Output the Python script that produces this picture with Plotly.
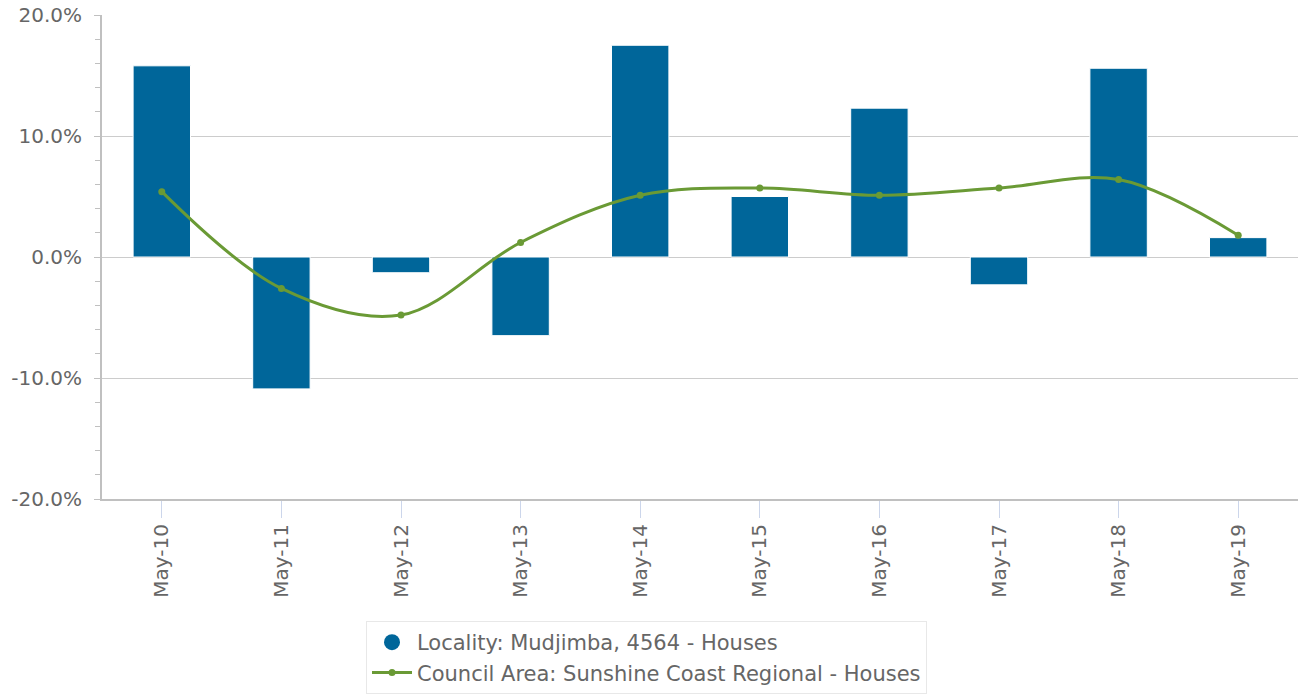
import plotly.graph_objects as go

categories = ["May-10", "May-11", "May-12", "May-13", "May-14",
              "May-15", "May-16", "May-17", "May-18", "May-19"]
locality_values = [15.8, -10.9, -1.3, -6.5, 17.5, 5.0, 12.3, -2.3, 15.6, 1.6]
council_values = [5.4, -2.6, -4.8, 1.2, 5.1, 5.7, 5.1, 5.7, 6.4, 1.8]
y_tick_vals = [-20, -10, 0, 10, 20]
y_tick_text = ["-20.0%", "-10.0%", "0.0%", "10.0%", "20.0%"]

locality_name = "Locality: Mudjimba, 4564 - Houses"
council_name = "Council Area: Sunshine Coast Regional - Houses"

BAR_COLOR = "#00669a"
LINE_COLOR = "#6a9a35"
FONT = "DejaVu Sans"
TEXT = "#666666"

W, H = 1298, 698
ML, MT, MR, MB = 102, 15, 0, 199
plot_w = W - ML - MR
plot_h = H - MT - MB

fig = go.Figure()
fig.add_trace(go.Bar(
    x=categories, y=locality_values, name=locality_name,
    marker=dict(color=BAR_COLOR, line=dict(color="white", width=1)),
    width=0.48, showlegend=False,
))
fig.add_trace(go.Scatter(
    x=[None], y=[None], mode="markers", name=locality_name,
    marker=dict(color=BAR_COLOR, size=20, symbol="circle"),
))
fig.add_trace(go.Scatter(
    x=categories, y=council_values, name=council_name,
    mode="lines+markers",
    line=dict(color=LINE_COLOR, width=3, shape="spline", smoothing=1.0),
    marker=dict(color=LINE_COLOR, size=7),
))

fig.update_layout(
    width=W, height=H,
    margin=dict(l=ML, r=MR, t=MT, b=MB, autoexpand=False),
    paper_bgcolor="white", plot_bgcolor="white",
    font=dict(family=FONT, size=20, color=TEXT),
    showlegend=True,
    legend=dict(
        x=(362 + 4 - 102) / plot_w, xanchor="left",
        y=-(621 - 499) / plot_h, yanchor="top",
        bordercolor="#e8e8e8", borderwidth=1, bgcolor="white",
        font=dict(family=FONT, size=21, color=TEXT),
        itemwidth=40,
    ),
)
fig.update_xaxes(
    type="category", range=[-0.5, 9.5], automargin=False,
    showline=True, linecolor="#c0c0c0", linewidth=2,
    ticks="outside", ticklen=17, tickcolor="#ccd6eb", tickwidth=1,
    tickangle=-90, showgrid=False, ticklabelstandoff=-2,
    ticklabeloverflow="allow",
    tickfont=dict(family=FONT, size=20, color=TEXT),
)
fig.update_yaxes(
    range=[-20, 20.0001], tickmode="array", tickvals=y_tick_vals, ticktext=y_tick_text,
    automargin=False, ticklabeloverflow="allow",
    showline=True, linecolor="#c0c0c0", linewidth=2,
    ticks="outside", ticklen=6, tickcolor="#c0c0c0", tickwidth=1,
    showgrid=True, gridcolor="#cccccc", gridwidth=1,
    zeroline=False,
    minor=dict(tickmode="linear", tick0=0, dtick=2, ticks="outside",
               ticklen=5, tickcolor="#c0c0c0", showgrid=False),
    ticklabelstandoff=8,
    tickfont=dict(family=FONT, size=20, color=TEXT),
)

fig.write_html(
    "out.html",
    config={"displayModeBar": False},
    post_script="document.body.style.margin='0';document.body.style.overflow='hidden';",
)
